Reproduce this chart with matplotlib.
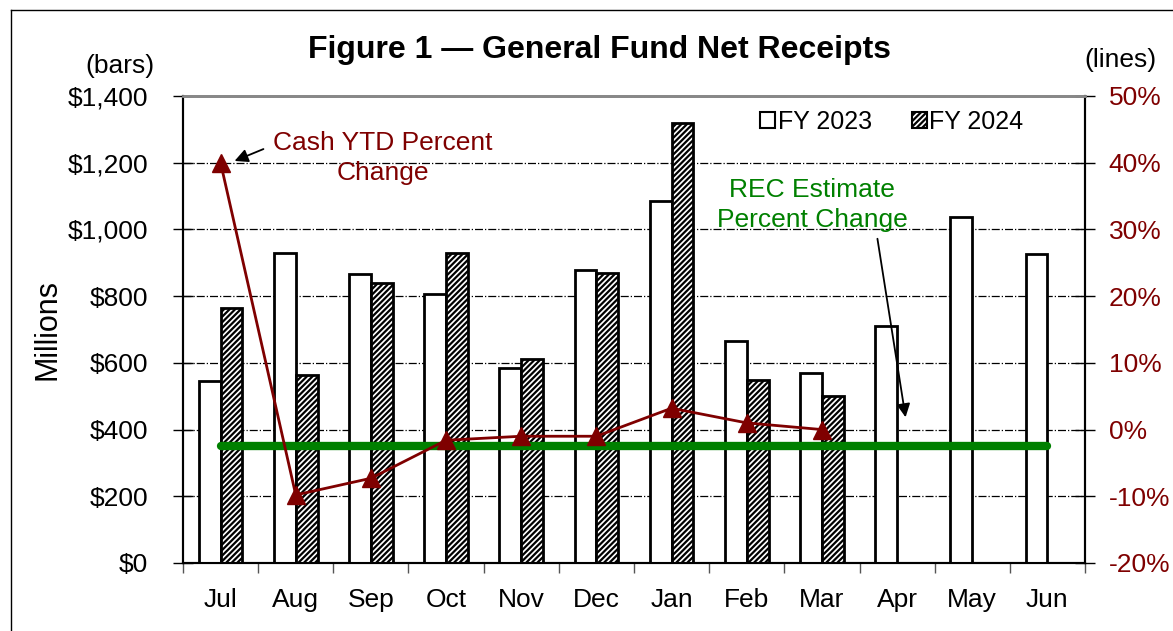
import matplotlib
matplotlib.use("Agg")
import matplotlib.pyplot as plt
import numpy as np
from matplotlib.patches import Patch
from matplotlib.lines import Line2D

plt.rcParams['font.family'] = ['Liberation Sans', 'DejaVu Sans']
plt.rcParams['hatch.linewidth'] = 1.6

months = ["Jul", "Aug", "Sep", "Oct", "Nov", "Dec", "Jan", "Feb", "Mar", "Apr", "May", "Jun"]
fy2023 = [546, 928, 865, 805, 585, 878, 1086, 666, 569, 711, 1038, 926]
fy2024 = [763, 563, 838, 928, 611, 869, 1320, 548, 501]
cash_ytd_pct = [40.0, -9.8, -7.3, -1.6, -1.0, -1.0, 3.2, 1.0, 0.0]
rec_estimate_pct = -2.5
left_ticks = [0, 200, 400, 600, 800, 1000, 1200, 1400]
right_ticks = [-20, -10, 0, 10, 20, 30, 40, 50]

W, H = 1173, 631
fig = plt.figure(figsize=(W / 100, H / 100), dpi=100)
def fx(p): return p / W
def fy(p): return 1 - p / H

ax = fig.add_axes([fx(183), fy(563), fx(1085) - fx(183), fy(96) - fy(563)])
ax2 = ax.twinx()

x = np.arange(len(months))
bw = 0.29
ax.bar(x[:len(fy2023)] - bw / 2, fy2023, bw, color='white', edgecolor='black', linewidth=2, zorder=3)
ax.bar(x[:len(fy2024)] + bw / 2, fy2024, bw, color='white', edgecolor='black', linewidth=2,
       hatch='//////', zorder=3)

ax.set_xlim(-0.5, 11.5)
ax.set_ylim(0, 1400)
ax.set_yticks(left_ticks)
ax.set_yticklabels([f"${v:,}" for v in left_ticks], fontsize=19)
ax.set_xticks(x)
ax.set_xticklabels(months, fontsize=19)
ax.set_xticks(np.arange(-0.5, 12, 1), minor=True)
ax.tick_params(axis='x', which='major', length=0, pad=18)
ax.tick_params(axis='x', which='minor', length=7, width=1, direction='out', color='#555555')
ax.tick_params(axis='y', length=14, width=1, direction='inout', pad=18)
ax.grid(axis='y', linestyle='-.', color='black', linewidth=0.9)
ax.set_axisbelow(True)
ax.set_ylabel("Millions", fontsize=22)
ax.yaxis.set_label_coords(-0.134, 0.5)

ax2.set_ylim(-20, 50)
ax2.set_yticks(right_ticks)
ax2.set_yticklabels([f"{v}%" for v in right_ticks], fontsize=19, color='#7f0000')
ax2.tick_params(axis='y', length=14, width=1, direction='inout', pad=10)

ax2.plot([x[0], x[-1]], [rec_estimate_pct, rec_estimate_pct], color='#008000', linewidth=6,
         solid_capstyle='round', zorder=4)
ax2.plot(x[:len(cash_ytd_pct)], cash_ytd_pct, color='#7f0000', linewidth=2, marker='^',
         markersize=13, zorder=5)

for a in (ax, ax2):
    a.spines['top'].set_color('#888888')
    a.spines['top'].set_linewidth(2)
    a.spines['left'].set_linewidth(1.5)
    a.spines['right'].set_linewidth(1.5)
    a.spines['bottom'].set_linewidth(1.5)

fig.text(fx(600), fy(50), "Figure 1 \u2014 General Fund Net Receipts", fontsize=23, fontweight='bold',
         ha='center', va='center')
fig.text(fx(120), fy(66), "(bars)", fontsize=19, ha='center', va='center')
fig.text(fx(1120), fy(60), "(lines)", fontsize=19, ha='center', va='center')

fig.text(fx(383), fy(158), "Cash YTD Percent\nChange", fontsize=19, color='#7f0000',
         ha='center', va='center', linespacing=1.35)
ax.annotate("", xy=(fx(232), fy(162)), xycoords='figure fraction',
            xytext=(fx(266), fy(148)), textcoords='figure fraction',
            arrowprops=dict(arrowstyle='-|>', color='black', lw=1.3, mutation_scale=20))
fig.text(fx(812), fy(205), "REC Estimate\nPercent Change", fontsize=19, color='#008000',
         ha='center', va='center', linespacing=1.3)
ax.annotate("", xy=(fx(906), fy(420)), xycoords='figure fraction',
            xytext=(fx(877), fy(236)), textcoords='figure fraction',
            arrowprops=dict(arrowstyle='-|>', color='black', lw=1.3, mutation_scale=20))

handles = [Patch(facecolor='white', edgecolor='black', linewidth=1.5),
           Patch(facecolor='white', edgecolor='black', linewidth=1.5, hatch='//////')]
fig.legend(handles, ["FY 2023", "FY 2024"], loc='center', bbox_to_anchor=(fx(892), fy(122)),
           ncol=2, frameon=False, fontsize=18, handlelength=0.6, handleheight=0.6,
           handletextpad=0.1, columnspacing=1.6)

fig.add_artist(Line2D([fx(11), 1], [fy(10), fy(10)], transform=fig.transFigure, color='black', linewidth=1))
fig.add_artist(Line2D([fx(11), fx(11)], [fy(10), 0], transform=fig.transFigure, color='black', linewidth=1))

fig.savefig("out.png", dpi=100)
